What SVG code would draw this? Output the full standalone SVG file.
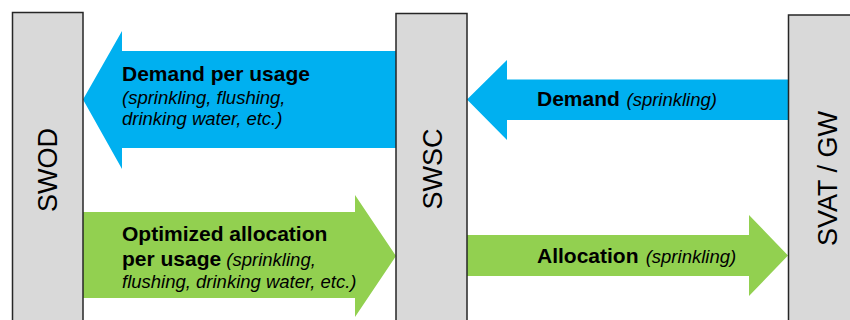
<svg xmlns="http://www.w3.org/2000/svg" width="850" height="320" viewBox="0 0 850 320">
<style>
.box{fill:#d9d9d9;stroke:#262626;stroke-width:1.5}
.blue{fill:#00b0f0}
.green{fill:#92d050}
.lbl{font-family:"Liberation Sans",Arial,sans-serif;font-size:27px;fill:#000}
.b{font-family:"Liberation Sans",Arial,sans-serif;font-size:21px;font-weight:bold;fill:#000}
.i{font-family:"Liberation Sans",Arial,sans-serif;font-size:18.5px;font-style:italic;font-weight:normal;fill:#000}
</style>
<rect width="850" height="320" fill="#fff"/>
<g id="connectors">
<g id="demand-per-usage">
<polygon class="blue" points="396,51 122,51 122,31 83,99.5 122,169 122,148 396,148"/>
<text class="b" x="122" y="81">Demand per usage</text>
<text class="i" x="122" y="104">(sprinkling, flushing,</text>
<text class="i" x="122" y="125">drinking water, etc.)</text>
</g>
<g id="optimized-allocation">
<polygon class="green" points="83,212 355,212 355,195 396,256 355,317 355,298 83,298"/>
<text class="b" x="122" y="241">Optimized allocation</text>
<text x="122" y="265.5"><tspan class="b">per usage</tspan><tspan class="i"> (sprinkling,</tspan></text>
<text class="i" x="122" y="287.5">flushing, drinking water, etc.)</text>
</g>
<g id="demand">
<polygon class="blue" points="788,79.5 507,79.5 507,60 467,99.5 507,140 507,120 788,120"/>
<text x="537" y="106"><tspan class="b">Demand</tspan><tspan class="i" dx="1.5"> (sprinkling)</tspan></text>
</g>
<g id="allocation">
<polygon class="green" points="467,235 749,235 749,215 788,255.5 749,296 749,276 467,276"/>
<text x="537" y="262.5"><tspan class="b">Allocation</tspan><tspan class="i" dx="2"> (sprinkling)</tspan></text>
</g>
</g>
<g id="SWOD">
<rect class="box" x="12.5" y="12.5" width="70.5" height="320"/>
<text class="lbl" transform="translate(56.5,170) rotate(-90)" text-anchor="middle">SWOD</text>
</g>
<g id="SWSC">
<rect class="box" x="396" y="13.5" width="71" height="320"/>
<text class="lbl" transform="translate(441.5,169) rotate(-90)" text-anchor="middle">SWSC</text>
</g>
<g id="SVAT-GW">
<rect class="box" x="788.5" y="15" width="80" height="320"/>
<text class="lbl" transform="translate(836.5,178.5) rotate(-90)" text-anchor="middle">SVAT / GW</text>
</g>
</svg>
